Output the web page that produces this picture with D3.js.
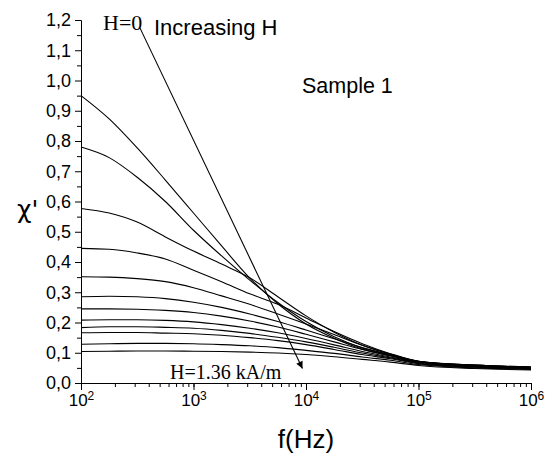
<!DOCTYPE html>
<html>
<head>
<meta charset="utf-8">
<script src="https://cdn.jsdelivr.net/npm/d3@7"></script>
<style>
  body { margin: 0; background: #fff; }
  svg text { font-family: Arial, "Liberation Sans", sans-serif; fill: #000; }
  .axis path, .axis line { stroke: #000; stroke-width: 1; }
  .serif { font-family: "Liberation Serif", "Times New Roman", serif; }
</style>
</head>
<body>
<div id="chart"></div>
<script>
// data
var freqs = [100, 178, 316, 562, 1000, 1778, 3162, 5623, 10000, 17783, 31623, 56234, 100000, 316228, 1000000];

var curve1  = [0.950, 0.873, 0.777, 0.671, 0.562, 0.453, 0.347, 0.262, 0.195, 0.148, 0.112, 0.090, 0.070, 0.057, 0.051];
var curve2  = [0.780, 0.745, 0.680, 0.600, 0.505, 0.420, 0.340, 0.266, 0.203, 0.153, 0.116, 0.092, 0.071, 0.058, 0.052];
var curve3  = [0.577, 0.562, 0.532, 0.483, 0.436, 0.393, 0.348, 0.285, 0.222, 0.168, 0.125, 0.095, 0.072, 0.059, 0.053];
var curve4  = [0.445, 0.442, 0.430, 0.410, 0.373, 0.335, 0.295, 0.260, 0.215, 0.170, 0.130, 0.097, 0.072, 0.059, 0.053];
var curve5  = [0.351, 0.350, 0.345, 0.335, 0.315, 0.288, 0.260, 0.228, 0.195, 0.160, 0.125, 0.096, 0.072, 0.059, 0.052];
var curve6  = [0.285, 0.287, 0.285, 0.279, 0.267, 0.250, 0.228, 0.203, 0.175, 0.146, 0.117, 0.093, 0.071, 0.058, 0.051];
var curve7  = [0.245, 0.245, 0.244, 0.240, 0.233, 0.221, 0.205, 0.185, 0.161, 0.136, 0.111, 0.090, 0.070, 0.057, 0.050];
var curve8  = [0.208, 0.209, 0.209, 0.207, 0.202, 0.193, 0.181, 0.166, 0.147, 0.126, 0.104, 0.086, 0.068, 0.055, 0.049];
var curve9  = [0.183, 0.186, 0.186, 0.184, 0.181, 0.174, 0.164, 0.151, 0.136, 0.118, 0.099, 0.083, 0.066, 0.054, 0.048];
var curve10 = [0.166, 0.167, 0.167, 0.165, 0.163, 0.158, 0.150, 0.140, 0.127, 0.111, 0.094, 0.080, 0.064, 0.052, 0.047];
var curve11 = [0.128, 0.130, 0.131, 0.131, 0.130, 0.127, 0.123, 0.117, 0.108, 0.098, 0.086, 0.075, 0.061, 0.050, 0.045];
var curve12 = [0.104, 0.105, 0.106, 0.106, 0.105, 0.104, 0.102, 0.099, 0.094, 0.087, 0.078, 0.069, 0.058, 0.048, 0.043];

var curves = [curve1, curve2, curve3, curve4, curve5, curve6, curve7, curve8, curve9, curve10, curve11, curve12];

var xTicks = [1e2, 1e3, 1e4, 1e5, 1e6];
var yTicks = [0, 0.1, 0.2, 0.3, 0.4, 0.5, 0.6, 0.7, 0.8, 0.9, 1.0, 1.1, 1.2];
var yMinor = [0.05, 0.15, 0.25, 0.35, 0.45, 0.55, 0.65, 0.75, 0.85, 0.95, 1.05, 1.15];

// arrow from H=0 down to H=1.36 kA/m, in data units
var arrowFrom = {f: 334, chi: 1.174};
var arrowTo = {f: 9300, chi: 0.048};

(function(){
  'use strict';

  var W = 546, H = 459,
      margin = {top: 20, right: 15, bottom: 76, left: 81},
      w = W - margin.left - margin.right,
      h = H - margin.top - margin.bottom;

  var svg = d3.select('#chart').append('svg')
    .attr('width', W)
    .attr('height', H);

  var g = svg.append('g')
    .attr('transform', 'translate(' + margin.left + ',' + margin.top + ')');

  var x = d3.scaleLog()
    .domain([1e2, 1e6])
    .range([0, w]);

  var y = d3.scaleLinear()
    .domain([0, 1.2])
    .range([h, 0]);

  // minor ticks first
  g.append('g')
    .attr('class', 'axis')
    .attr('transform', 'translate(0,' + h + ')')
    .call(d3.axisBottom(x).tickValues(x.ticks()).tickSize(4).tickFormat(''))
    .select('.domain').remove();

  g.append('g')
    .attr('class', 'axis')
    .call(d3.axisLeft(y).tickValues(yMinor).tickSize(4).tickFormat(''))
    .select('.domain').remove();

  var xAxis = g.append('g')
    .attr('class', 'axis')
    .attr('transform', 'translate(0,' + h + ')')
    .call(d3.axisBottom(x).tickValues(xTicks).tickSizeOuter(0).tickSize(7).tickPadding(5));

  xAxis.selectAll('.tick text')
    .attr('dy', null)
    .attr('y', 23)
    .style('font-size', '17px')
    .each(function(d) {
      var t = d3.select(this);
      t.text('10');
      t.append('tspan')
        .attr('dy', '-0.5em')
        .style('font-size', '12px')
        .text(Math.round(Math.log10(d)));
    });

  g.append('g')
    .attr('class', 'axis')
    .call(d3.axisLeft(y).tickValues(yTicks).tickSizeOuter(0).tickSize(6).tickPadding(4)
      .tickFormat(function(d) { return d3.format('.1f')(d).replace('.', ','); }))
    .selectAll('.tick text')
    .style('font-size', '18px');

  // curves
  var line = d3.line()
    .x(function(d, i) { return x(freqs[i]); })
    .y(function(d) { return y(d); })
    .curve(d3.curveMonotoneX);

  g.selectAll('.chi')
    .data(curves)
    .enter()
    .append('path')
    .attr('class', 'chi')
    .attr('d', line)
    .style('fill', 'none')
    .style('stroke', '#000')
    .style('stroke-width', 1.1);

  // arrow
  svg.append('defs').append('marker')
    .attr('id', 'head')
    .attr('viewBox', '0 0 10 10')
    .attr('refX', 10)
    .attr('refY', 5)
    .attr('markerWidth', 9)
    .attr('markerHeight', 7)
    .attr('markerUnits', 'userSpaceOnUse')
    .attr('orient', 'auto')
    .append('path')
    .attr('d', 'M0,0L10,5L0,10z')
    .style('fill', '#000');

  g.append('line')
    .attr('x1', x(arrowFrom.f))
    .attr('y1', y(arrowFrom.chi))
    .attr('x2', x(arrowTo.f))
    .attr('y2', y(arrowTo.chi))
    .style('stroke', '#000')
    .style('stroke-width', 1.1)
    .attr('marker-end', 'url(#head)');

  // labels
  g.append('text')
    .attr('class', 'serif')
    .attr('x', 22)
    .attr('y', 10)
    .style('font-size', '22px')
    .text('H=0');

  g.append('text')
    .attr('x', 73)
    .attr('y', 15)
    .style('font-size', '22px')
    .text('Increasing H');

  g.append('text')
    .attr('x', 221)
    .attr('y', 73)
    .style('font-size', '21.5px')
    .text('Sample 1');

  g.append('text')
    .attr('class', 'serif')
    .attr('x', 89)
    .attr('y', h - 4)
    .style('font-size', '20px')
    .text('H=1.36 kA/m');

  svg.append('text')
    .attr('x', margin.left + w / 2)
    .attr('y', 448)
    .attr('text-anchor', 'middle')
    .style('font-size', '26px')
    .text('f(Hz)');

  svg.append('text')
    .attr('x', 17)
    .attr('y', 218)
    .style('font-family', '"DejaVu Sans", sans-serif')
    .style('font-size', '25px')
    .text("\u03C7'");

}());
</script>
</body>
</html>
